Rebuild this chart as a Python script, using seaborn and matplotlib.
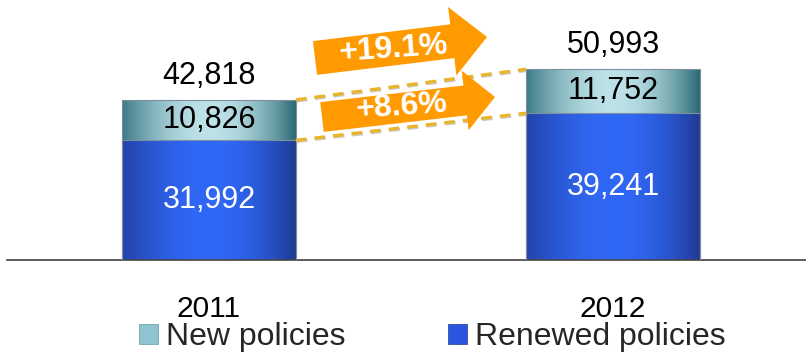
import numpy as np
import pandas as pd
import matplotlib
matplotlib.use("Agg")
import matplotlib.pyplot as plt
import matplotlib.transforms as mtransforms
from matplotlib.patches import Polygon, Patch
from matplotlib import patheffects as pe
import seaborn as sns

# ---- data -------------------------------------------------------------
years = ["2011", "2012"]
renewed = [31992, 39241]
new = [10826, 11752]
growth_labels = ["+19.1%", "+8.6%"]
legend_labels = ["New policies", "Renewed policies"]

totals = [r + n for r, n in zip(renewed, new)]
df = pd.DataFrame({"year": years, "renewed": renewed, "new": new, "total": totals})

# ---- style ------------------------------------------------------------
sns.set_theme(style="white")
plt.rcParams["font.family"] = ["Liberation Sans", "DejaVu Sans"]

NEW_C = "#7fb8c4"
REN_C = "#2a55d8"
ORANGE = "#ff9a00"
GOLD = "#e8b52c"

W, H = 806, 352
fig = plt.figure(figsize=(W / 100, H / 100), dpi=100)
ax = fig.add_axes([7 / W, 92 / H, 808 / W, 260 / H])

bar_w = 0.43
sns.barplot(data=df, x="year", y="total", color=NEW_C, width=bar_w,
            saturation=1, ax=ax, edgecolor="#7d8ea3", linewidth=0.8)
sns.barplot(data=df, x="year", y="renewed", color=REN_C, width=bar_w,
            saturation=1, ax=ax, edgecolor="#7d8ea3", linewidth=0.8)

ax.set_xlim(-0.5, 1.5)
ax.set_ylim(0, 69500)


def hex_rgb(h):
    h = h.lstrip("#")
    return np.array([int(h[i:i + 2], 16) / 255 for i in (0, 2, 4)])


def shade(patch, left, mid, right, z):
    """Fill a bar with a horizontal cylinder-like gradient."""
    t = np.linspace(0, 1, 256)
    f = np.sin(np.pi * t) ** 0.9
    edge = np.outer(1 - t, hex_rgb(left)) + np.outer(t, hex_rgb(right))
    col = edge + (hex_rgb(mid) - edge) * f[:, None]
    x0, y0 = patch.get_x(), patch.get_y()
    w, h = patch.get_width(), patch.get_height()
    im = ax.imshow(col[None, :, :], extent=[x0, x0 + w, y0, y0 + h],
                   aspect="auto", interpolation="bicubic", zorder=z)
    im.set_clip_path(patch)
    patch.set_facecolor("none")
    patch.set_zorder(3)


bars = list(ax.patches)
for p in bars[:2]:
    shade(p, "#3b7986", "#bde2e8", "#2a6872", 1.0)
for p in bars[2:]:
    shade(p, "#2442a8", "#3068f6", "#1f3a92", 1.5)

ax.set_xlim(-0.5, 1.5)
ax.set_ylim(0, 69500)

# ---- value labels -----------------------------------------------------
for i, (r, n, t) in enumerate(zip(renewed, new, totals)):
    ax.text(i, r / 2, f"{r:,}", color="white", ha="center", va="center",
            fontsize=22, zorder=5)
    ax.text(i, r + n / 2, f"{n:,}", color="black", ha="center", va="center",
            fontsize=22, zorder=5)
    ax.text(i, t + 6400, f"{t:,}", color="black", ha="center", va="center",
            fontsize=22, zorder=5)

# ---- dashed connectors between bar tops ---------------------------------
shadow = [pe.SimpleLineShadow(offset=(0.6, -0.8), shadow_color="#999999", alpha=0.5),
          pe.Normal()]
for a, b in [(totals[0], totals[1]), (renewed[0], renewed[1])]:
    ax.plot([0 + bar_w / 2, 1 - bar_w / 2], [a, b], color=GOLD, lw=2.4,
            dashes=(3.2, 2.4), zorder=4, path_effects=shadow, solid_capstyle="butt")

# ---- axes cosmetics ---------------------------------------------------
ax.set_xlabel("")
ax.set_ylabel("")
ax.set_yticks([])
for s in ["top", "right", "left"]:
    ax.spines[s].set_visible(False)
ax.spines["bottom"].set_color("#404040")
ax.spines["bottom"].set_linewidth(1.2)
ax.set_xticks([0, 1])
ax.set_xticklabels(years, fontsize=21.5)
ax.tick_params(axis="x", which="major", length=0, pad=25, colors="black")
ax.set_xticks([-0.5, 0.5, 1.5], minor=True)
ax.tick_params(axis="x", which="minor", direction="in", length=7,
               width=1.0, color="#404040")

# ---- growth arrows (figure pixel coordinates, y downward) -------------
px = mtransforms.Affine2D().scale(1 / W, -1 / H).translate(0, 1) + fig.transFigure


def arrow_poly(tail, tip, body_w, head_w, head_len):
    tail, tip = np.array(tail, float), np.array(tip, float)
    d = tip - tail
    u = d / np.hypot(*d)
    n = np.array([-u[1], u[0]])
    base = tip - u * head_len
    return [tail + n * body_w / 2, base + n * body_w / 2, base + n * head_w / 2,
            tip, base - n * head_w / 2, base - n * body_w / 2, tail - n * body_w / 2]


arrows = [
    dict(tail=(315, 58), tip=(487, 37), body_w=34, head_w=69, head_len=35,
         text=(394, 49)),
    dict(tail=(322, 117), tip=(495, 97), body_w=30, head_w=60, head_len=30,
         text=(402, 107)),
]
for a, lab in zip(arrows, growth_labels):
    poly = Polygon(arrow_poly(a["tail"], a["tip"], a["body_w"], a["head_w"],
                              a["head_len"]),
                   closed=True, facecolor=ORANGE, edgecolor="none",
                   transform=px, zorder=10)
    fig.add_artist(poly)
    fig.text(*a["text"], lab, transform=px, color="white", fontweight="bold",
             fontsize=23, ha="center", va="center", rotation=4,
             rotation_mode="anchor", zorder=11)

# ---- legend -------------------------------------------------------------
handles = [Patch(facecolor="#8ec4cf", edgecolor="#6a9aa5", linewidth=0.5),
           Patch(facecolor="#2b57e0", edgecolor="#1f3a92", linewidth=0.5)]
fig.legend(handles, legend_labels, loc="center", ncol=2, frameon=False,
           bbox_to_anchor=(432 / W, 1 - 337 / H), fontsize=23,
           handlelength=0.6, handleheight=0.6, handletextpad=0.25,
           columnspacing=3.2, borderpad=0)

fig.savefig("out.png", dpi=100)
